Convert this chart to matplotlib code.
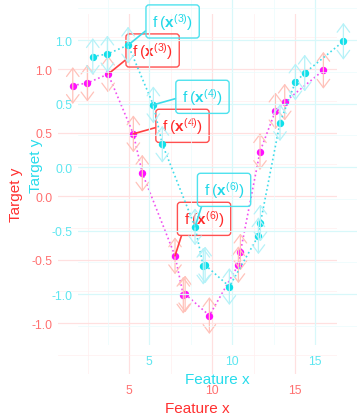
import matplotlib.pyplot as plt
from matplotlib.ticker import MultipleLocator

plt.rcParams['font.family'] = ['Liberation Sans', 'DejaVu Sans']
plt.rcParams['mathtext.fontset'] = 'custom'
plt.rcParams['mathtext.rm'] = 'Liberation Sans'
plt.rcParams['mathtext.bf'] = 'Liberation Sans:bold'
plt.rcParams['mathtext.it'] = 'Liberation Sans:italic'

# Values
feature_x = [1.59, 2.47, 3.72, 5.24, 5.78, 7.75, 8.25, 8.36, 9.82,
             11.57, 11.69, 12.87, 13.80, 14.36, 16.69]
target_y = [0.87, 0.89, 0.96, 0.49, 0.18, -0.47, -0.78, -0.77, -0.94,
            -0.54, -0.44, 0.35, 0.67, 0.74, 0.99]
arrow_half = 0.145

# Labelled points (1-based index) and where their labels sit
label_idx = [3, 4, 6]
label_x = [6.40, 8.20, 9.50]
label_y = [1.146, 0.553, -0.179]
label_relpos = [(0, 0.3), (0, 0.5), (0, 0)]

x_ticks = [5, 10, 15]
y_ticks = [-1.0, -0.5, 0.0, 0.5, 1.0]

W, H = 357, 414
fig = plt.figure(figsize=(W / 100, H / 100), dpi=100)

# panel of the red copy in pixels: left, top, right, bottom
px_l, px_t, px_r, px_b = 58, 15, 337, 375

red = dict(grid='#ffe0e0', minor='#ffeeee', tick='#ff7070', title='#ff3030',
           point='#ff10ff', line='#f050f0', arrow='#ffc2ba', box='#ff5050',
           text='#ff2a2a', seg='#ff4040')
cyan = dict(grid='#d8f8fa', minor='#eafcfd', tick='#5ce6f0', title='#28dcec',
            point='#10e0ea', line='#40dceA', arrow='#b6f2f8', box='#4ee2ee',
            text='#22d8e8', seg='#3adcea')


def draw_layer(dx, dy, c):
    rect = [(px_l + dx) / W, 1 - (px_b - dy) / H,
            (px_r - px_l) / W, (px_b - px_t) / H]
    ax = fig.add_axes(rect)
    ax.patch.set_alpha(0)
    ax.set_xlim(0.70, 17.51)
    ax.set_ylim(-1.40, 1.433)
    for s in ax.spines.values():
        s.set_visible(False)
    ax.xaxis.set_major_locator(MultipleLocator(5))
    ax.xaxis.set_minor_locator(MultipleLocator(2.5))
    ax.yaxis.set_major_locator(MultipleLocator(0.5))
    ax.yaxis.set_minor_locator(MultipleLocator(0.25))
    ax.set_xticks(x_ticks)
    ax.set_yticks(y_ticks)
    ax.set_yticklabels(['%.1f' % v for v in y_ticks])
    ax.grid(True, which='major', color=c['grid'], lw=0.9)
    ax.grid(True, which='minor', color=c['minor'], lw=0.5)
    ax.set_axisbelow(True)
    ax.tick_params(which='both', length=0, labelsize=8.8, labelcolor=c['tick'])
    ax.tick_params(axis='x', pad=7)
    ax.tick_params(axis='y', pad=4)
    ax.set_xlabel('Feature x', fontsize=11, color=c['title'], labelpad=4)
    ax.set_ylabel('Target y', fontsize=11, color=c['title'], labelpad=6)

    for x, y in zip(feature_x, target_y):
        ax.annotate('', xy=(x, y + arrow_half), xytext=(x, y - arrow_half),
                    arrowprops=dict(arrowstyle='<->,head_length=0.6,head_width=0.45',
                                    color=c['arrow'], lw=0.9, shrinkA=0, shrinkB=0,
                                    mutation_scale=10))
    ax.plot(feature_x, target_y, ls=':', lw=1.2, color=c['line'])
    ax.plot(feature_x, target_y, 'o', ms=4.3, color=c['point'])

    for i, lx, ly, rp in zip(label_idx, label_x, label_y, label_relpos):
        ax.annotate(r'f$\;(\mathbf{x}^{(%d)})$' % i,
                    xy=(feature_x[i - 1], target_y[i - 1]), xytext=(lx, ly),
                    ha='center', va='center', fontsize=11, color=c['text'],
                    bbox=dict(boxstyle='round,pad=0.4,rounding_size=0.2',
                              fc='none', ec=c['box'], lw=1.0),
                    arrowprops=dict(arrowstyle='-', color=c['seg'], lw=1.2,
                                    shrinkA=0, shrinkB=0, relpos=rp))
    return ax


draw_layer(0, 0, red)
draw_layer(20, 29, cyan)

fig.savefig('out.png', dpi=100)
